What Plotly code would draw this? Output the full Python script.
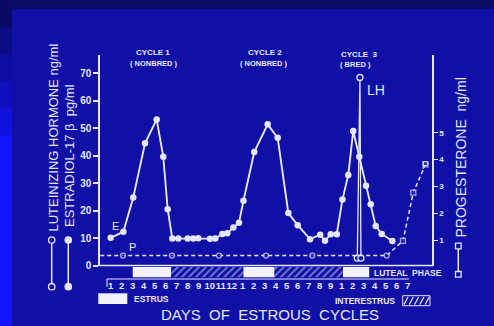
import plotly.graph_objects as go

# ---------------- data ----------------
# x = running day index (cycle 1 days 1-12 -> 1..12, cycle 2 days 1-9 -> 13..21, cycle 3 days 1-7 -> 22..28)
DAY_LABELS = ["1", "2", "3", "4", "5", "6", "7", "8", "9", "10", "11", "12",
              "1", "2", "3", "4", "5", "6", "7", "8", "9",
              "1", "2", "3", "4", "5", "6", "7"]

E2_DAY = [1.00, 2.15, 3.05, 4.12, 5.18, 5.78, 6.18, 6.60, 7.15, 8.00, 8.51, 8.96,
          10.03, 10.51, 11.15, 11.60, 12.15, 12.66, 13.07, 14.05, 15.27, 16.18,
          17.15, 18.00, 19.12, 20.05, 20.48, 21.00, 21.55, 22.07, 22.60, 23.05,
          23.60, 24.21, 24.64, 25.09, 25.64, 26.60]
E2_PGML = [10.1, 12.3, 24.8, 44.5, 53.2, 39.6, 20.5, 9.8, 9.8, 9.8, 9.8, 9.9,
           9.7, 9.8, 11.5, 11.7, 13.8, 15.6, 23.6, 41.3, 51.4, 46.5,
           19.1, 14.7, 9.6, 11.2, 9.0, 11.4, 11.4, 24.0, 33.0, 49.0,
           39.6, 29.0, 22.3, 14.4, 11.5, 8.9]

LH_DAY = [23.42, 23.66, 23.75]
LH_NGML = [2.7, 68.5, 2.7]

P4_DAY = [0.05, 2.12, 6.57, 10.85, 15.12, 19.33, 26.09, 27.57, 28.51, 29.62]
P4_NGML = [0.42, 0.42, 0.42, 0.42, 0.42, 0.42, 0.42, 0.97, 2.77, 3.82]

ESTRUS_START = [3.0, 13.05, 22.1]
ESTRUS_END = [6.48, 15.9, 24.5]
INTERESTRUS_START = [6.48, 15.9]
INTERESTRUS_END = [13.05, 22.1]

LEFT_TICKS = [0, 10, 20, 30, 40, 50, 60, 70]
RIGHT_TICKS = [1, 2, 3, 4, 5]

# ---------------- style ----------------
FG = "#e6e6ff"
BG = "#1010a6"
FONT = "Liberation Sans"
W, H = 494, 326
ML, MR, MT, MB = 100, 62, 55, 48
PW, PH = W - ML - MR, H - MT - MB


def px(x):
    return (x - ML) / PW


def py(y):
    return (H - MB - y) / PH


fig = go.Figure()

# progesterone (dashed, right axis)
p_sym = ["circle"] * 7 + ["square"] * 3
p_size = [0] + [5] * 9
fig.add_trace(go.Scatter(
    x=P4_DAY, y=P4_NGML, yaxis="y2", mode="lines+markers",
    line=dict(color=FG, width=1.5, dash="4px,3px"),
    marker=dict(symbol=p_sym, size=p_size, color=BG, line=dict(color=FG, width=1.3)),
    hoverinfo="skip"))

# LH spike
fig.add_trace(go.Scatter(
    x=LH_DAY, y=LH_NGML, mode="lines+markers",
    line=dict(color=FG, width=1.3),
    marker=dict(symbol="circle", size=6, color=BG, line=dict(color=FG, width=1.3)),
    hoverinfo="skip"))

# estradiol
fig.add_trace(go.Scatter(
    x=E2_DAY, y=E2_PGML, mode="lines+markers",
    line=dict(color=FG, width=1.9),
    marker=dict(symbol="circle", size=6.5, color=FG),
    hoverinfo="skip"))

# estrus / interestrus band
fig.add_trace(go.Bar(
    x=[e - s for s, e in zip(ESTRUS_START, ESTRUS_END)], base=ESTRUS_START,
    y=[0] * len(ESTRUS_START), yaxis="y3", orientation="h", width=1,
    marker=dict(color="#f2f2ff", line=dict(width=0)), hoverinfo="skip"))
fig.add_trace(go.Bar(
    x=[e - s for s, e in zip(INTERESTRUS_START, INTERESTRUS_END)], base=INTERESTRUS_START,
    y=[0] * len(INTERESTRUS_START), yaxis="y3", orientation="h", width=1,
    marker=dict(color=BG, line=dict(width=0),
                pattern=dict(shape="/", fgcolor=FG, bgcolor=BG, size=5, solidity=0.35)),
    hoverinfo="skip"))

shapes = []
# photo framing: dark top band, gradient left strip
shapes.append(dict(type="rect", xref="paper", yref="paper", x0=px(0), x1=px(W),
                   y0=py(0), y1=py(9), fillcolor="#0b0b66", line=dict(width=0), layer="below"))
n = 12
for i in range(n):
    t = min(1.0, i / 5)
    r = int(10 + t * 10)
    b = int(100 + t * 155)
    y0 = i * (H / n)
    shapes.append(dict(type="rect", xref="paper", yref="paper", x0=px(0), x1=px(12),
                       y0=py(y0), y1=py(y0 + H / n + 1), fillcolor=f"rgb({r},{r},{b})",
                       line=dict(width=0), layer="below"))

# baseline
shapes.append(dict(type="line", xref="paper", yref="paper", x0=px(100), x1=px(433),
                   y0=py(265.5), y1=py(265.5), line=dict(color=FG, width=1.5)))
# day ruler bracket
shapes.append(dict(type="line", xref="paper", yref="paper", x0=px(107), x1=px(409),
                   y0=py(279), y1=py(279), line=dict(color=FG, width=1)))
shapes.append(dict(type="line", xref="paper", yref="paper", x0=px(107), x1=px(107),
                   y0=py(279), y1=py(287), line=dict(color=FG, width=1)))

# left legend glyphs
for gx, filled in ((51.7, False), (68.3, True)):
    shapes.append(dict(type="line", xref="paper", yref="paper", x0=px(gx), x1=px(gx),
                       y0=py(240), y1=py(286.7), line=dict(color=FG, width=1.5)))
    for gy in (240, 286.7):
        rr = 3.2
        shapes.append(dict(type="circle", xref="paper", yref="paper",
                           x0=px(gx - rr), x1=px(gx + rr), y0=py(gy - rr), y1=py(gy + rr),
                           fillcolor=FG if filled else BG, line=dict(color=FG, width=1.3)))
# right legend glyph
shapes.append(dict(type="line", xref="paper", yref="paper", x0=px(458.3), x1=px(458.3),
                   y0=py(246), y1=py(274.3), line=dict(color=FG, width=1.5)))
for gy in (246, 274.3):
    shapes.append(dict(type="rect", xref="paper", yref="paper",
                       x0=px(455.5), x1=px(461.1), y0=py(gy - 2.8), y1=py(gy + 2.8),
                       fillcolor=BG, line=dict(color=FG, width=1.3)))

# estrus legend box
shapes.append(dict(type="rect", xref="paper", yref="paper", x0=px(98.3), x1=px(127.3),
                   y0=py(293.3), y1=py(304), fillcolor="#f2f2ff", line=dict(width=0)))
# interestrus legend box
shapes.append(dict(type="rect", xref="paper", yref="paper", x0=px(402.7), x1=px(430),
                   y0=py(295.7), y1=py(305.7), fillcolor=BG, line=dict(color=FG, width=1)))
for k in range(5):
    x0 = 404 + k * 5.3
    shapes.append(dict(type="line", xref="paper", yref="paper", x0=px(x0), x1=px(x0 + 4),
                       y0=py(304.5), y1=py(297), line=dict(color=FG, width=1.3)))

ann = []


def note(text, x, y, size, bold=False, angle=0, xanchor="center", family=FONT):
    t = f"<b>{text}</b>" if bold else text
    ann.append(dict(text=t, x=px(x), y=py(y), xref="paper", yref="paper",
                    xanchor=xanchor, yanchor="middle", showarrow=False, textangle=angle,
                    font=dict(family=family, size=size, color=FG)))


note("LUTEINIZING HORMONE ng/ml", 53, 137.5, 13, angle=-90)
note("ESTRADIOL-17 β  pg/ml", 69, 156, 13, angle=-90)
note("PROGESTERONE  ng/ml", 460, 157.5, 14, angle=-90)
note("CYCLE 1", 152.5, 52.7, 8, bold=True)
note("( NONBRED )", 154, 63.3, 7.5, bold=True)
note("CYCLE 2", 265, 52.7, 8, bold=True)
note("( NONBRED )", 264, 63.3, 7.5, bold=True)
note("CYCLE  3", 359, 54, 8, bold=True)
note("( BRED )", 355, 64, 7.5, bold=True)
note("LH", 365, 90, 14, xanchor="left")
note("E", 115, 226, 11)
note("P", 132, 246.5, 11)
note("P", 425.5, 165, 10)
note("LUTEAL  PHASE", 372, 273, 8.5, bold=True, xanchor="left")
note("ESTRUS", 131.7, 299, 8.5, bold=True, xanchor="left")
note("INTERESTRUS", 333, 300.5, 8.5, bold=True, xanchor="left")
note("DAYS  OF  ESTROUS  CYCLES", 270, 314, 15)

fig.update_layout(
    width=W, height=H,
    margin=dict(l=ML, r=MR, t=MT, b=MB, pad=0),
    paper_bgcolor=BG, plot_bgcolor="rgba(0,0,0,0)",
    showlegend=False, barmode="overlay",
    shapes=shapes, annotations=ann,
    xaxis=dict(domain=[0, 1], anchor="y3", range=[0.027, 30.21],
               tickvals=list(range(1, len(DAY_LABELS) + 1)), ticktext=DAY_LABELS,
               tickangle=0, ticks="", showline=False, showgrid=False, zeroline=False,
               tickfont=dict(family=FONT, size=9.5, color=FG, weight="bold"),
               ticklabelstandoff=1),
    yaxis=dict(domain=[(H - MB - 265.5) / PH, 1], anchor="x", range=[0, 76.66],
               tickvals=LEFT_TICKS, showline=True, linecolor=FG, linewidth=1.5,
               ticks="outside", ticklen=5, tickwidth=1.5, tickcolor=FG,
               showgrid=False, zeroline=False,
               tickfont=dict(family=FONT, size=10, color=FG, weight="bold")),
    yaxis2=dict(overlaying="y", side="right", anchor="x", range=[0.0485, 7.903],
                tickvals=RIGHT_TICKS, showline=True, linecolor=FG, linewidth=1.5,
                ticks="outside", ticklen=4, tickwidth=1.3, tickcolor=FG,
                showgrid=False, zeroline=False,
                tickfont=dict(family=FONT, size=8, color=FG, weight="bold")),
    yaxis3=dict(domain=[(H - MB - 277.5) / PH, (H - MB - 267) / PH], anchor="x",
                range=[-0.5, 0.5], visible=False),
)

fig.write_html(
    "out.html",
    config={"displayModeBar": False},
    post_script=(
        "document.documentElement.style.margin='0';"
        "document.body.style.margin='0';"
        "document.body.style.overflow='hidden';"
        "document.body.style.background='" + BG + "';"
    ),
)
